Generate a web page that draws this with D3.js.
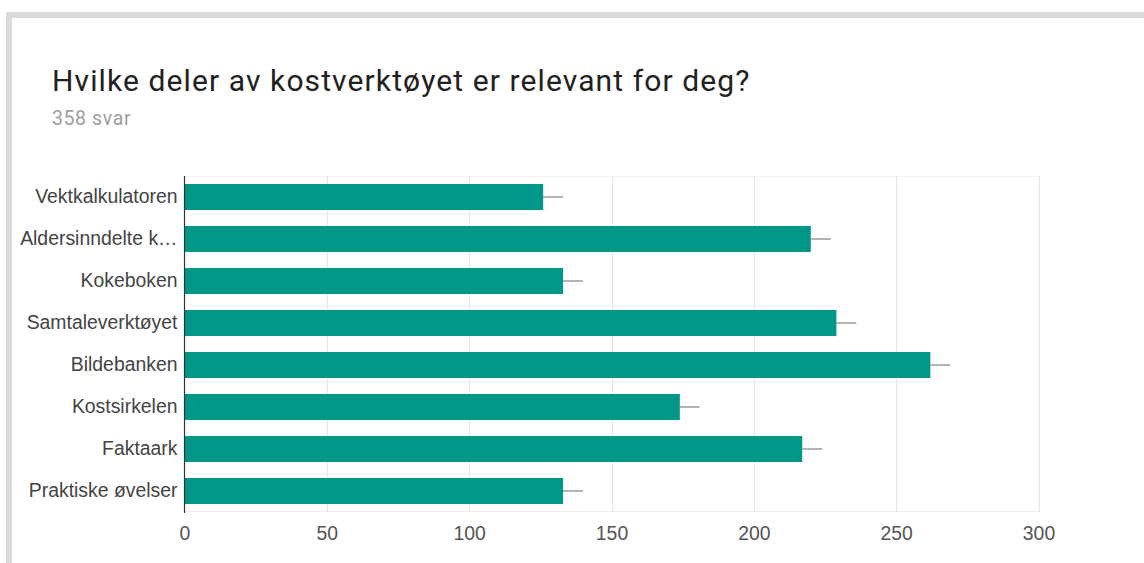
<!DOCTYPE html>
<html>
<head>
<meta charset="utf-8">
<script src="https://cdn.jsdelivr.net/npm/d3@7"></script>
<style>
  html, body { margin: 0; padding: 0; background: #fff; }
  svg { display: block; }
</style>
</head>
<body>
<div id="chart"></div>
<script>
// Survey question and response count
const title = "Hvilke deler av kostverktøyet er relevant for deg?";
const subtitle = "358 svar";

// Answer options (y axis) and number of respondents per option
const categories = [
  "Vektkalkulatoren",
  "Aldersinndelte k…",
  "Kokeboken",
  "Samtaleverktøyet",
  "Bildebanken",
  "Kostsirkelen",
  "Faktaark",
  "Praktiske øvelser"
];
const counts = [126, 220, 133, 229, 262, 174, 217, 133];
// Length of the whisker drawn past the end of each bar
const whisker = [7, 7, 7, 7, 7, 7, 7, 7];

// X axis ticks
const xTicks = [0, 50, 100, 150, 200, 250, 300];

const W = 1144, H = 563;
const plot = { left: 184.5, right: 1038.5, top: 176, bottom: 512 };

const svg = d3.select("#chart").append("svg")
  .attr("width", W).attr("height", H);

// Card frame (grey edge along the top and left)
svg.append("rect").attr("x", 6).attr("y", 12).attr("width", W - 6).attr("height", 6)
  .attr("fill", "#dadada");
svg.append("rect").attr("x", 6).attr("y", 12).attr("width", 6).attr("height", H - 12)
  .attr("fill", "#dadada");

// Heading
svg.append("text")
  .attr("x", 52).attr("y", 91)
  .attr("font-family", "Roboto, sans-serif")
  .attr("font-size", 30)
  .attr("letter-spacing", 1.1)
  .attr("fill", "#212121")
  .text(title);

svg.append("text")
  .attr("x", 52).attr("y", 125)
  .attr("font-family", "Roboto, sans-serif")
  .attr("font-size", 19.5)
  .attr("letter-spacing", 0.6)
  .attr("fill", "#9e9e9e")
  .text(subtitle);

const x = d3.scaleLinear().domain([0, 300]).range([plot.left, plot.right]);
const y = d3.scaleBand().domain(categories).range([plot.top, plot.bottom])
  .paddingInner(0.38).paddingOuter(0.19);

// Chart area edges
svg.append("line")
  .attr("x1", plot.left).attr("x2", plot.right)
  .attr("y1", plot.top + 0.5).attr("y2", plot.top + 0.5)
  .attr("stroke", "#f0f0f0");
svg.append("line")
  .attr("x1", plot.left).attr("x2", plot.right)
  .attr("y1", plot.bottom - 0.5).attr("y2", plot.bottom - 0.5)
  .attr("stroke", "#ececec");

// Vertical gridlines
svg.append("g").selectAll("line")
  .data(xTicks.filter(d => d > 0))
  .join("line")
  .attr("x1", d => Math.round(x(d)) + 0.5).attr("x2", d => Math.round(x(d)) + 0.5)
  .attr("y1", plot.top).attr("y2", plot.bottom)
  .attr("stroke", "#e6e6e6");

// Bars
svg.append("g").selectAll("rect")
  .data(categories)
  .join("rect")
  .attr("x", x(0))
  .attr("y", d => y(d))
  .attr("width", (d, i) => x(counts[i]) - x(0))
  .attr("height", y.bandwidth())
  .attr("fill", "#009688");

// Whiskers
svg.append("g").selectAll("line")
  .data(categories)
  .join("line")
  .attr("x1", (d, i) => x(counts[i]))
  .attr("x2", (d, i) => x(counts[i] + whisker[i]))
  .attr("y1", d => y(d) + y.bandwidth() / 2)
  .attr("y2", d => y(d) + y.bandwidth() / 2)
  .attr("stroke", "#8a8a8a")
  .attr("stroke-width", 1.3);

// Baseline at zero
svg.append("line")
  .attr("x1", x(0)).attr("x2", x(0))
  .attr("y1", plot.top).attr("y2", plot.bottom + 1)
  .attr("stroke", "#333").attr("stroke-width", 1.2);

// Category labels
const yAxis = d3.axisLeft(y).tickSize(0).tickPadding(7);
svg.append("g")
  .attr("transform", `translate(${x(0)},0)`)
  .call(yAxis)
  .call(g => g.select(".domain").remove())
  .call(g => g.selectAll("text")
    .attr("font-family", "'Liberation Sans', Arial, sans-serif")
    .attr("font-size", 19.4)
    .attr("fill", "#444"));

// Value axis labels
const xAxis = d3.axisBottom(x).tickValues(xTicks).tickSize(0).tickPadding(0)
  .tickFormat(d3.format("d"));
svg.append("g")
  .attr("transform", `translate(0,${plot.bottom})`)
  .call(xAxis)
  .call(g => g.select(".domain").remove())
  .call(g => g.selectAll("text")
    .attr("dy", null)
    .attr("y", 28)
    .attr("font-family", "'Liberation Sans', Arial, sans-serif")
    .attr("font-size", 19.4)
    .attr("fill", "#555"));
</script>
</body>
</html>
